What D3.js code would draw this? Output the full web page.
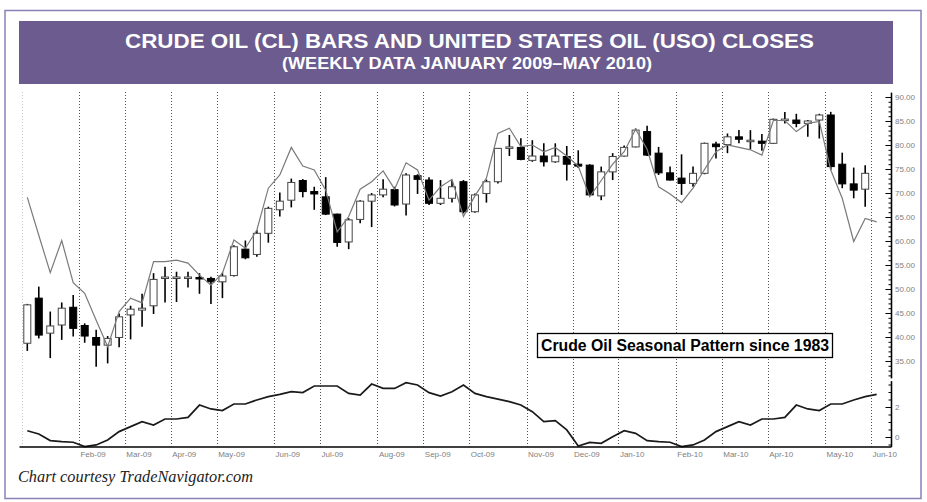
<!DOCTYPE html>
<html>
<head>
<meta charset="utf-8">
<script src="https://cdn.jsdelivr.net/npm/d3@7"></script>
<style>
  body { margin: 0; background: #fff; }
  svg { display: block; }
</style>
</head>
<body>
<svg id="chart" width="927" height="502"></svg>
<script>
// weekly crude oil (CL) bars, Fridays from 2 Jan 2009 to 28 May 2010
const clOpen = [38.7, 48.1, 40.8, 42.5, 46.2, 42.4, 39.9, 38.3, 39.9, 44.6, 45.6, 46.5, 52.3, 52.3, 52.3, 52.4, 52.2, 51.5, 52.8, 58.3,
  57.2, 61.6, 66.5, 68.5, 72.6, 70.3, 69.2, 65.6, 59.8, 64.5, 68.3, 69.6, 70.7, 67.7, 73.6, 72.7, 67.85, 68.9, 72.35, 66.1,
  69.9, 72.35, 79.4, 79.5, 76.8, 77.7, 76.5, 77.6, 76.0, 75.8, 69.4, 74.4, 77.7, 79.6, 82.8, 78.3, 74.2, 73.1, 72.0, 74.1,
  80.2, 80.1, 81.7, 80.9, 80.8, 80.35, 85.2, 85.2, 84.5, 85.2, 86.25, 76.0, 71.9, 70.8];
const clHigh = [46.9, 50.5, 45.3, 47.2, 48.75, 42.85, 41.5, 40.2, 44.9, 46.5, 49.0, 53.3, 54.65, 53.6, 53.6, 53.3, 52.55, 53.4, 59.1, 60.1,
  62.3, 67.15, 70.1, 73.0, 72.9, 71.3, 73.3, 65.7, 64.75, 68.5, 70.0, 72.85, 71.3, 74.1, 73.9, 73.3, 72.7, 72.7, 72.7, 69.9,
  72.8, 79.4, 82.1, 81.4, 81.0, 80.35, 80.35, 79.8, 78.9, 76.0, 75.5, 78.3, 79.9, 83.45, 84.0, 79.6, 75.5, 78.05, 75.5, 80.5,
  80.7, 82.4, 83.1, 83.1, 82.3, 85.5, 86.9, 86.5, 85.2, 86.5, 86.9, 78.4, 75.3, 75.8];
const clLow = [37.1, 39.7, 35.6, 39.4, 40.1, 38.8, 33.8, 34.5, 37.85, 39.5, 42.15, 44.8, 47.2, 47.3, 50.3, 49.0, 46.9, 48.1, 52.6, 56.2,
  56.7, 59.65, 65.1, 67.0, 69.1, 66.5, 65.4, 58.8, 58.3, 63.7, 62.9, 69.1, 67.2, 65.3, 69.8, 67.5, 67.5, 68.0, 65.75, 65.9,
  68.0, 72.0, 77.7, 76.8, 76.5, 75.5, 76.3, 72.6, 75.2, 69.4, 68.5, 72.7, 77.6, 79.5, 77.7, 73.75, 72.6, 69.6, 71.3, 73.9,
  77.2, 78.3, 80.35, 79.1, 78.8, 80.2, 84.5, 83.7, 81.7, 81.35, 74.8, 71.0, 68.9, 67.15];
const clClose = [46.7, 40.4, 42.3, 46.0, 41.8, 40.2, 38.3, 39.7, 44.2, 45.8, 46.0, 52.0, 52.5, 52.5, 52.5, 52.2, 51.5, 52.7, 58.8, 56.5,
  61.6, 66.8, 68.3, 72.2, 70.3, 69.8, 65.6, 59.7, 64.4, 68.3, 69.6, 70.8, 67.5, 73.75, 72.85, 67.85, 68.9, 71.3, 66.1, 69.6,
  72.35, 79.3, 79.6, 77.0, 77.7, 76.5, 77.7, 76.0, 75.6, 69.6, 74.4, 77.6, 79.5, 83.1, 77.9, 74.2, 72.7, 72.0, 74.1, 80.35,
  79.65, 81.7, 81.2, 81.0, 80.35, 85.35, 85.4, 84.5, 85.0, 86.25, 75.5, 71.9, 70.6, 74.1];

// United States Oil (USO) weekly closes, drawn on the price scale
const usoClose = [69.1, 61.2, 53.4, 60.1, 51.3, 49.1, 43.5, 38.0, 45.3, 48.1, 47.1, 55.7, 55.7, 56.0, 55.4, 52.9, 50.8, 53.3, 60.2, 58.5,
  62.3, 71.0, 73.75, 79.5, 75.6, 74.8, 70.6, 61.9, 65.1, 70.8, 72.35, 74.6, 70.8, 76.3, 74.8, 68.5, 71.3, 72.85, 65.1, 69.4,
  73.1, 82.4, 83.5, 79.65, 80.0, 78.6, 79.5, 77.7, 75.6, 69.2, 72.6, 76.0, 78.6, 83.3, 79.1, 71.3, 69.8, 68.0, 71.0, 74.9,
  78.6, 80.0, 79.5, 79.0, 77.9, 85.1, 85.1, 82.8, 84.5, 84.9, 74.8, 68.9, 59.9, 64.7, 64.0];

// crude oil seasonal pattern since 1983 (lower panel)
const seasonal = [0.42, 0.2, -0.24, -0.31, -0.35, -0.64, -0.53, -0.2, 0.36, 0.69, 1.02, 0.8, 1.2, 1.2, 1.31, 2.13, 1.87, 1.76, 2.2, 2.2,
  2.47, 2.69, 2.84, 3.02, 2.96, 3.4, 3.4, 3.4, 2.91, 2.8, 3.53, 3.24, 3.24, 3.62, 3.47, 2.96, 2.73, 3.02, 3.47, 2.91,
  2.69, 2.53, 2.36, 2.13, 1.69, 1.02, 1.09, 0.47, -0.6, -0.36, -0.42, 0.02, 0.42, 0.24, -0.24, -0.31, -0.35, -0.64, -0.53, -0.2,
  0.36, 0.69, 1.02, 0.8, 1.2, 1.2, 1.31, 2.13, 1.87, 1.76, 2.2, 2.2, 2.47, 2.69, 2.84];

const monthLabels = ['Feb-09', 'Mar-09', 'Apr-09', 'May-09', 'Jun-09', 'Jul-09', 'Aug-09', 'Sep-09', 'Oct-09', 'Nov-09',
  'Dec-09', 'Jan-10', 'Feb-10', 'Mar-10', 'Apr-10', 'May-10', 'Jun-10'];
const monthStartWeek = [5, 9, 13, 17, 22, 26, 31, 35, 39, 44, 48, 52, 57, 61, 65, 70, 74];
const priceLabelTicks = [35, 40, 45, 50, 55, 60, 65, 70, 75, 80, 85, 90];
const seasonalLabelTicks = [0, 2];

const svg = d3.select('#chart');

// outer frame + title banner
svg.append('rect')
  .attr('x', 5).attr('y', 10.5).attr('width', 916).attr('height', 488)
  .attr('fill', 'none').attr('stroke', '#8c80b6').attr('stroke-width', 1.5);

svg.append('rect')
  .attr('x', 19).attr('y', 21).attr('width', 874).attr('height', 63)
  .attr('fill', '#6b5b8e');

svg.append('text')
  .attr('x', 469.5).attr('y', 47.5)
  .attr('text-anchor', 'middle')
  .attr('font-family', 'Liberation Sans, Arial, sans-serif')
  .attr('font-weight', 'bold').attr('font-size', 21)
  .attr('textLength', 689).attr('lengthAdjust', 'spacingAndGlyphs')
  .attr('fill', '#fff')
  .text('CRUDE OIL (CL) BARS AND UNITED STATES OIL (USO) CLOSES');

svg.append('text')
  .attr('x', 467).attr('y', 68.5)
  .attr('text-anchor', 'middle')
  .attr('font-family', 'Liberation Sans, Arial, sans-serif')
  .attr('font-weight', 'bold').attr('font-size', 17)
  .attr('textLength', 370).attr('lengthAdjust', 'spacingAndGlyphs')
  .attr('fill', '#fff')
  .text('(WEEKLY DATA JANUARY 2009\u2013MAY 2010)');

// scales
const xScale = d3.scaleLinear().domain([0, 73]).range([27.3, 27.3 + 73 * 11.478]);
const yPrice = d3.scaleLinear().domain([35, 90]).range([361, 97]);
const ySeas = d3.scaleLinear().domain([0, 2]).range([437, 407]);

const axisX = 891;
const plotTop = 92;
const plotBottom = 446.5;

// monthly dotted grid lines (between the last and first week of each month)
const gridWeeks = [0].concat(monthStartWeek);
svg.append('g')
  .selectAll('line')
  .data(gridWeeks)
  .join('line')
  .attr('x1', d => Math.round(xScale(d - 0.5)) + 0.5)
  .attr('x2', d => Math.round(xScale(d - 0.5)) + 0.5)
  .attr('y1', plotTop).attr('y2', plotBottom)
  .attr('stroke', (d, i) => i === 0 ? '#c8c8c8' : '#555')
  .attr('stroke-width', 1)
  .attr('stroke-dasharray', '1,2');

// candles
const bars = d3.range(clOpen.length).map(i => ({
  i, o: clOpen[i], h: clHigh[i], l: clLow[i], c: clClose[i],
}));

const candle = svg.append('g').selectAll('g')
  .data(bars)
  .join('g')
  .attr('transform', d => `translate(${xScale(d.i)},0)`);

candle.append('line')
  .attr('y1', d => yPrice(d.h))
  .attr('y2', d => yPrice(d.l))
  .attr('stroke', '#000')
  .attr('stroke-width', 1.6);

candle.append('rect')
  .attr('x', -3.5)
  .attr('width', 7)
  .attr('y', d => yPrice(Math.max(d.o, d.c)))
  .attr('height', d => Math.max(1.5, Math.abs(yPrice(d.o) - yPrice(d.c))))
  .attr('fill', d => d.c >= d.o ? '#fff' : '#000')
  .attr('stroke', d => d.c >= d.o ? '#444' : '#000')
  .attr('stroke-width', 1);

// USO closes
svg.append('path')
  .datum(usoClose)
  .attr('fill', 'none')
  .attr('stroke', '#7a7a7a')
  .attr('stroke-width', 1.2)
  .attr('d', d3.line().x((d, i) => xScale(i)).y(d => yPrice(d)));

// seasonal pattern
svg.append('path')
  .datum(seasonal)
  .attr('fill', 'none')
  .attr('stroke', '#1a1a1a')
  .attr('stroke-width', 1.7)
  .attr('d', d3.line().x((d, i) => xScale(i)).y(d => ySeas(d)));

// right price axis
const priceAxisScale = yPrice.copy().domain([31.5, 91]).range([yPrice(31.5), yPrice(91)]);
const axisStyle = g => {
  g.select('.domain').attr('stroke', '#000').attr('stroke-width', 1.3);
  g.selectAll('.tick line').attr('stroke', '#000');
  g.selectAll('.tick text')
    .attr('fill', '#808080')
    .attr('font-family', 'Liberation Sans, Arial, sans-serif')
    .attr('font-size', 8);
};

svg.append('g')
  .attr('transform', `translate(${axisX},0)`)
  .call(d3.axisRight(priceAxisScale).tickValues(d3.range(32, 91, 1)).tickSizeInner(-2.5).tickSizeOuter(0).tickFormat(''))
  .call(axisStyle);

svg.append('g')
  .attr('transform', `translate(${axisX},0)`)
  .call(d3.axisRight(priceAxisScale).tickValues(priceLabelTicks).tickSizeInner(-5.5).tickSizeOuter(0).tickPadding(4).tickFormat(d3.format('.2f')))
  .call(axisStyle);

// right seasonal axis
const seasAxisScale = ySeas.copy().domain([-0.62, 3.75]).range([ySeas(-0.62), ySeas(3.75)]);
svg.append('g')
  .attr('transform', `translate(${axisX},0)`)
  .call(d3.axisRight(seasAxisScale).tickValues(d3.range(-0.5, 3.6, 0.5)).tickSizeInner(-2.5).tickSizeOuter(0).tickFormat(''))
  .call(axisStyle);

svg.append('g')
  .attr('transform', `translate(${axisX},0)`)
  .call(d3.axisRight(seasAxisScale).tickValues(seasonalLabelTicks).tickSizeInner(-5.5).tickSizeOuter(0).tickPadding(4).tickFormat(d3.format('d')))
  .call(axisStyle);

// bottom month axis
const xAxisScale = xScale.copy()
  .domain([xScale.invert(19), xScale.invert(axisX)])
  .range([19, axisX]);
const xAxis = svg.append('g')
  .attr('transform', `translate(0,${plotBottom})`)
  .call(d3.axisBottom(xAxisScale)
    .tickValues(monthStartWeek.map(w => w - 0.5))
    .tickFormat((d, i) => monthLabels[i])
    .tickSize(0).tickPadding(5))
  .call(axisStyle);
xAxis.selectAll('.tick text').attr('text-anchor', 'start').attr('dx', 1);

// legend box
const legend = svg.append('g');
legend.append('rect')
  .attr('x', 537.5).attr('y', 333.5).attr('width', 295).attr('height', 24)
  .attr('fill', '#fff').attr('stroke', '#000').attr('stroke-width', 1.3);
legend.append('text')
  .attr('x', 541).attr('y', 351)
  .attr('font-family', 'Liberation Sans, Arial, sans-serif')
  .attr('font-weight', 'bold').attr('font-size', 16)
  .attr('textLength', 288).attr('lengthAdjust', 'spacingAndGlyphs')
  .attr('fill', '#000')
  .text('Crude Oil Seasonal Pattern since 1983');

// footer
svg.append('text')
  .attr('x', 18).attr('y', 482)
  .attr('font-family', 'Liberation Serif, Times New Roman, serif')
  .attr('font-style', 'italic').attr('font-size', 17.5)
  .attr('textLength', 235).attr('lengthAdjust', 'spacingAndGlyphs')
  .attr('fill', '#222')
  .text('Chart courtesy TradeNavigator.com');
</script>
</body>
</html>
